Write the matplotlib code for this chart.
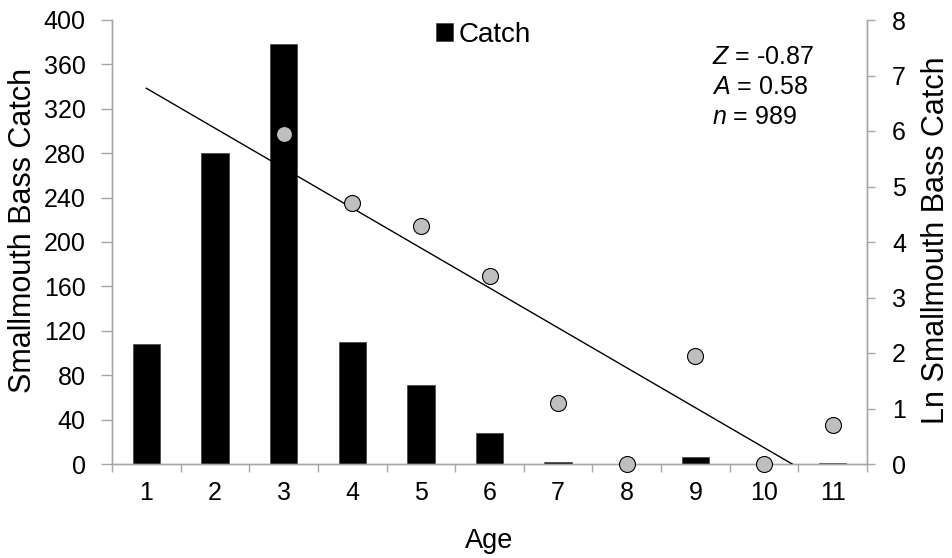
import numpy as np
import matplotlib
matplotlib.use("Agg")
import matplotlib.pyplot as plt

plt.rcParams['font.family'] = ['Liberation Sans', 'DejaVu Sans']
plt.rcParams['mathtext.fontset'] = 'custom'
plt.rcParams['mathtext.rm'] = 'Liberation Sans'
plt.rcParams['mathtext.it'] = 'Liberation Sans:italic'

# Catch at age
ages = [1, 2, 3, 4, 5, 6, 7, 8, 9, 10, 11]
catch = [108, 280, 378, 110, 71, 28, 2, 0, 6, 0, 1]

# Catch-curve points, ages 3+ (natural log of catch)
curve_ages = [3, 4, 5, 6, 7, 8, 9, 10, 11]
ln_catch = [5.95, 4.70, 4.29, 3.39, 1.10, 0.00, 1.95, 0.00, 0.70]

stats_lines = ["$Z$ = -0.87", "$A$ = 0.58", "$n$ = 989"]

left_ticks = list(range(0, 401, 40))
right_ticks = list(range(0, 9))

W, H = 952, 558
fig = plt.figure(figsize=(W / 100, H / 100), dpi=100)
ax = fig.add_axes([112 / W, 1 - 464 / H, (867 - 112) / W, (464 - 20) / H])
ax2 = ax.twinx()

grey = '#a6a6a6'
tick_fs = 18

ax.bar(ages, catch, width=0.4, color='black', edgecolor='#404040', linewidth=0.5,
       label='Catch', zorder=2)
ax.set_xlim(0.5, 11.5)
ax.set_ylim(0, 400)
ax.set_yticks(left_ticks)
ax.set_xticks(ages)
ax.set_xticks(np.arange(0.5, 12, 1), minor=True)
ax.tick_params(axis='x', which='major', length=0, labelsize=tick_fs, pad=12)
ax.tick_params(axis='x', which='minor', length=6, color=grey, width=1)
ax.tick_params(axis='y', length=8, color=grey, width=1, labelsize=tick_fs, pad=11)

# Linear regression of ln(catch) on age, extended back to age 1
slope, intercept = np.polyfit(curve_ages, ln_catch, 1)
xl = np.array([1.0, 11.5])
ax2.plot(xl, intercept + slope * xl, color='black', linewidth=1, zorder=3)
ax2.plot(curve_ages, ln_catch, 'o', markersize=11.5, markerfacecolor='#bfbfbf',
         markeredgecolor='black', markeredgewidth=0.8, zorder=4, clip_on=False)
ax2.set_ylim(0, 8)
ax2.set_yticks(right_ticks)
ax2.tick_params(axis='y', length=6, color=grey, width=1, labelsize=tick_fs, pad=12)

for a in (ax, ax2):
    a.spines['top'].set_visible(False)
    for s in ('left', 'right', 'bottom'):
        a.spines[s].set_color(grey)
        a.spines[s].set_linewidth(1)

fig.text(489 / W, 1 - 541 / H, 'Age', fontsize=19.5, ha='center', va='center')
fig.text(23 / W, 1 - 230 / H, 'Smallmouth Bass Catch', fontsize=22,
         rotation=90, ha='center', va='center')
fig.text(936 / W, 1 - 240 / H, 'Ln Smallmouth Bass Catch', fontsize=22,
         rotation=90, ha='center', va='center')

ax.legend(loc='center left', bbox_to_anchor=(436 / W, 1 - 35 / H),
          bbox_transform=fig.transFigure, frameon=False, borderpad=0,
          borderaxespad=0, fontsize=20, handlelength=0.6, handleheight=0.6,
          handletextpad=0.2)

for i, s in enumerate(stats_lines):
    fig.text(712 / W, 1 - (57 + i * 30) / H, s, fontsize=18,
             ha='left', va='center')

fig.savefig('out.png', dpi=100)
